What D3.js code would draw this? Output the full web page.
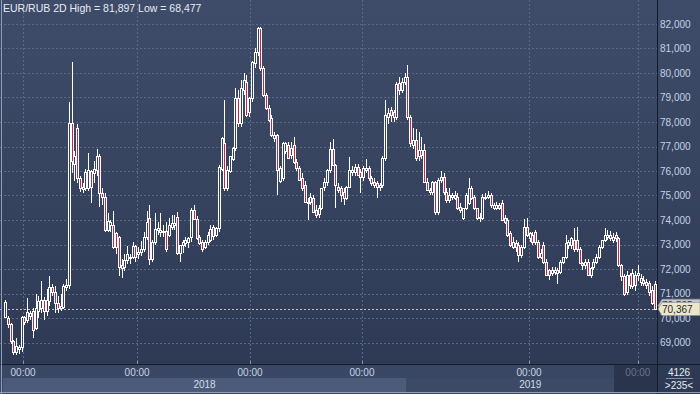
<!DOCTYPE html>
<html>
<head>
<meta charset="utf-8">
<script src="https://cdn.jsdelivr.net/npm/d3@7"></script>
<style>
  body { margin: 0; background: #2e3a54; }
  svg { display: block; font-family: "Liberation Sans", Arial, sans-serif; }
</style>
</head>
<body>
<div id="chart"></div>
<script>

var title = 'EUR/RUB 2D High = 81,897 Low = 68,477';

// open, high, low, close per 2D bar
var ohlc = [
  [70.05, 70.75, 70.0, 70.65], [70.0, 70.1, 69.6, 69.75], [69.75, 69.8, 68.95, 69.05], [69.05, 69.1, 68.5, 68.6],
  [68.6, 69.2, 68.477, 68.85], [68.75, 68.9, 68.55, 68.8], [68.8, 70.1, 68.6, 70.05], [70.05, 70.1, 69.7, 69.85],
  [69.9, 70.8, 69.8, 70.25], [70.1, 70.3, 69.9, 70.2], [70.3, 70.4, 69.2, 69.5], [69.6, 71.0, 69.5, 70.4],
  [70.3, 70.9, 70.0, 70.7], [70.4, 71.5, 70.2, 70.75], [70.75, 70.85, 69.9, 70.3], [70.3, 71.2, 70.1, 70.75],
  [70.7, 71.7, 70.5, 71.25], [71.25, 71.4, 70.9, 71.05], [71.05, 71.3, 70.2, 70.6], [70.6, 70.9, 70.2, 70.4],
  [70.4, 71.0, 70.3, 70.5], [70.45, 71.4, 70.35, 71.3], [71.25, 71.6, 71.1, 71.35], [71.35, 78.8, 71.2, 77.95],
  [77.95, 80.45, 75.9, 76.4], [76.3, 76.8, 75.6, 76.6], [77.75, 77.9, 75.5, 75.7], [75.7, 75.8, 75.15, 75.3],
  [75.35, 75.5, 75.1, 75.25], [75.3, 76.1, 75.2, 75.95], [75.3, 76.75, 75.2, 76.05], [76.0, 76.05, 74.7, 75.35],
  [75.9, 76.4, 75.5, 76.1], [76.05, 76.9, 75.8, 76.6], [76.6, 76.7, 74.55, 75.1], [75.1, 75.3, 74.6, 74.95],
  [74.95, 75.1, 73.5, 73.6], [73.6, 74.3, 73.5, 73.95], [73.8, 74.0, 73.5, 73.9], [73.8, 74.35, 72.8, 72.9],
  [73.45, 73.5, 72.6, 72.9], [73.3, 73.35, 71.7, 72.1], [72.15, 72.4, 71.65, 72.05], [72.1, 72.6, 71.9, 72.35],
  [72.35, 72.95, 72.2, 72.6], [72.45, 72.6, 72.2, 72.5], [72.5, 73.1, 72.4, 72.95], [72.95, 73.0, 72.3, 72.5],
  [72.6, 72.9, 72.4, 72.7], [72.7, 73.15, 72.55, 72.8], [72.8, 73.5, 72.7, 73.3], [73.3, 74.35, 73.2, 73.9],
  [74.1, 74.6, 72.15, 72.4], [72.4, 73.2, 72.3, 73.1], [73.1, 74.3, 73.0, 73.65], [73.6, 73.9, 73.4, 73.66],
  [73.6, 74.3, 73.3, 73.5], [73.5, 73.8, 73.3, 73.55], [73.55, 73.9, 72.7, 72.8],
  [73.4, 74.1, 73.3, 73.8], [73.7, 74.2, 73.6, 73.87], [73.8, 74.2, 73.6, 73.87], [74.13, 74.34, 72.57, 72.64],
  [72.64, 73.0, 72.3, 72.98], [72.98, 73.2, 72.64, 73.12], [73.05, 73.3, 72.9, 73.2], [73.1, 73.3, 72.84, 73.25],
  [73.3, 74.5, 73.1, 74.4], [74.4, 74.6, 74.0, 74.06], [74.06, 74.15, 73.2, 73.25], [73.3, 73.4, 73.0, 73.05],
  [73.1, 73.2, 72.7, 72.8], [72.9, 73.2, 72.8, 73.1], [73.1, 73.5, 73.0, 73.4], [73.2, 73.8, 73.1, 73.65],
  [73.7, 73.8, 73.2, 73.35], [73.4, 73.7, 73.3, 73.66], [73.66, 76.24, 73.5, 76.18], [76.1, 77.4, 76.0, 77.33],
  [77.13, 78.9, 75.2, 75.3], [75.3, 76.2, 75.2, 76.05], [76.0, 76.6, 75.9, 76.6], [76.5, 77.0, 76.4, 76.92],
  [76.92, 79.4, 76.8, 78.97], [78.97, 79.3, 77.8, 77.95], [77.95, 79.7, 77.8, 79.37], [79.3, 80.0, 79.1, 79.7],
  [79.65, 79.9, 78.2, 78.29], [78.4, 79.0, 78.2, 78.97], [78.97, 80.5, 78.8, 80.46], [80.4, 81.0, 80.2, 80.87],
  [80.87, 81.897, 80.7, 81.82],
  [81.82, 81.89, 80.1, 80.19], [80.19, 80.3, 79.0, 79.1], [79.1, 79.2, 78.5, 78.56], [78.56, 78.7, 78.0, 78.1],
  [78.15, 78.3, 77.4, 77.47], [77.33, 77.6, 77.2, 77.47], [77.45, 77.5, 75.0, 76.04], [75.6, 76.2, 75.5, 76.11],
  [75.7, 77.2, 75.6, 77.13], [76.8, 77.2, 76.7, 77.13], [77.06, 77.2, 76.5, 76.52], [76.65, 77.2, 76.5, 76.92],
  [77.06, 77.4, 76.3, 76.38], [76.38, 76.5, 76.0, 76.11], [76.11, 76.2, 75.6, 75.63], [75.7, 75.9, 75.2, 75.29],
  [75.43, 75.6, 74.7, 74.75], [74.75, 74.9, 74.0, 74.68], [74.75, 75.1, 74.6, 74.95], [74.9, 75.0, 74.3, 74.34],
  [74.4, 74.6, 74.1, 74.2], [74.25, 74.6, 74.1, 74.48], [74.5, 75.3, 74.4, 75.29], [75.35, 75.7, 75.2, 75.56],
  [75.56, 76.1, 75.4, 76.04], [76.04, 77.2, 75.9, 76.9], [76.9, 77.3, 76.2, 76.24],
  [76.24, 76.3, 74.48, 75.43], [75.36, 75.5, 75.1, 75.22], [75.29, 75.4, 74.75, 75.02], [75.16, 75.3, 74.6, 74.88],
  [74.88, 75.4, 74.8, 75.36], [75.36, 76.59, 75.3, 76.04], [75.97, 76.2, 75.8, 76.04], [75.97, 76.3, 75.8, 76.18],
  [76.18, 76.3, 75.8, 75.84], [75.97, 76.1, 75.1, 75.77], [75.77, 76.2, 75.6, 76.11], [76.05, 76.5, 75.9, 76.11],
  [76.11, 76.2, 75.6, 75.7], [75.7, 75.8, 75.4, 75.5], [75.56, 75.7, 75.3, 75.43], [75.5, 75.6, 74.9, 75.36],
  [75.36, 75.5, 75.2, 75.43], [75.43, 76.6, 75.3, 76.52], [76.52, 78.9, 76.4, 78.29], [78.2, 78.56, 77.9, 78.35],
  [78.49, 78.6, 78.0, 78.29], [78.4, 78.5, 78.0, 78.22], [78.22, 79.65, 78.1, 79.55], [79.58, 79.85, 79.1, 79.31],
  [79.31, 79.8, 79.2, 79.65], [79.65, 80.0, 79.5, 79.85], [79.85, 80.33, 78.1, 78.22], [78.22, 78.3, 77.0, 77.13],
  [77.06, 77.74, 76.9, 77.27], [77.27, 77.7, 76.4, 76.52], [76.6, 77.6, 76.4, 76.86], [76.86, 77.4, 76.5, 76.65],
  [76.86, 77.1, 75.5, 75.56], [75.56, 75.7, 75.2, 75.22], [75.22, 75.3, 75.0, 75.16], [75.16, 75.6, 75.0, 75.56],
  [75.56, 75.6, 74.2, 74.34], [74.34, 75.7, 74.2, 75.63], [75.63, 76.0, 75.5, 75.77], [75.77, 75.9, 75.0, 75.16],
  [75.16, 75.3, 74.7, 74.82], [74.82, 75.29, 74.7, 75.02], [74.95, 75.1, 74.8, 75.02], [75.02, 75.2, 74.8, 74.88],
  [74.95, 75.1, 74.4, 74.48], [74.55, 74.7, 74.3, 74.41], [74.07, 74.5, 74.0, 74.48], [74.48, 75.1, 74.4, 75.02],
  [74.68, 75.7, 74.6, 75.29], [75.29, 75.4, 74.8, 74.88], [74.95, 75.0, 74.4, 74.48], [74.48, 74.5, 74.0, 74.07],
  [74.07, 74.3, 73.9, 74.14], [74.1, 75.05, 74.0, 74.95], [74.88, 75.1, 74.8, 74.95], [74.95, 75.2, 74.85, 75.02],
  [75.02, 75.1, 74.5, 74.61],
  [74.48, 74.7, 74.4, 74.61], [74.5, 74.75, 74.4, 74.61], [74.61, 74.7, 74.4, 74.48], [74.68, 74.8, 73.95, 74.0],
  [74.07, 74.2, 73.85, 73.93], [74.0, 74.1, 73.3, 73.39], [73.45, 73.55, 72.9, 72.98], [72.91, 73.3, 72.8, 73.12],
  [73.05, 73.2, 72.7, 72.91], [72.98, 73.1, 72.3, 72.57], [72.57, 73.0, 72.45, 72.91], [72.91, 74.05, 72.8, 73.73],
  [73.73, 74.07, 73.3, 73.39], [73.25, 73.5, 73.1, 73.45], [73.39, 73.5, 73.0, 73.12], [73.52, 73.6, 73.0, 73.12],
  [73.12, 73.2, 72.4, 72.5], [72.5, 72.8, 72.4, 72.64], [72.98, 73.1, 72.2, 72.3], [72.3, 72.4, 71.7, 71.76],
  [71.95, 72.0, 71.55, 71.76], [71.83, 72.1, 71.7, 71.95], [71.89, 72.1, 71.75, 71.95], [71.95, 72.05, 71.4, 71.83],
  [71.89, 72.35, 71.8, 72.3], [72.3, 72.5, 72.2, 72.5], [72.5, 73.4, 72.4, 73.05], [72.98, 73.2, 72.8, 73.12],
  [72.98, 73.3, 72.8, 73.25], [73.2, 73.66, 72.7, 72.8], [73.2, 73.73, 72.7, 72.8], [72.8, 72.9, 72.2, 72.23],
  [72.23, 72.3, 71.95, 72.16], [72.16, 72.4, 72.0, 72.3], [72.3, 72.4, 71.7, 71.76], [71.76, 72.1, 71.65, 72.03],
  [72.1, 72.4, 71.95, 72.3], [72.3, 72.6, 72.2, 72.5], [72.5, 73.0, 72.4, 72.91], [72.91, 73.2, 72.8, 73.18],
  [73.18, 73.66, 73.1, 73.39], [73.3, 73.6, 73.2, 73.39], [73.39, 73.55, 73.15, 73.25], [73.18, 73.45, 73.05, 73.32],
  [73.39, 73.5, 73.1, 73.25], [73.25, 73.3, 72.1, 72.16], [72.16, 72.2, 71.5, 71.7], [71.7, 71.8, 70.9, 71.0],
  [71.07, 71.9, 70.95, 71.76], [71.76, 71.85, 71.2, 71.35], [71.3, 72.0, 71.2, 71.83], [71.76, 71.9, 71.1, 71.35],
  [71.76, 72.16, 71.5, 71.83], [71.45, 71.8, 71.3, 71.62], [71.55, 71.7, 71.3, 71.41], [71.48, 71.6, 71.2, 71.35],
  [71.41, 71.5, 70.9, 71.07], [71.14, 71.3, 70.55, 70.6], [71.4, 71.5, 70.35, 70.37]
];

var yTicks = [69, 70, 71, 72, 73, 74, 75, 76, 77, 78, 79, 80, 81, 82];
var timeTicks = [6.5, 47.6, 88.3, 128.6, 188.8, 228];
var timeLabels = ['00:00', '00:00', '00:00', '00:00', '00:00', '00:00'];
var years = ['2018', '2019'];
var yearStart = [-0.7, 144.5];
var yearEnd = [144.5, 234];
var lastPrice = 70.367;
var otherPrice = 70.505;
var cornerTop = '4126';
var cornerBottom = '>235<';

var W = 700, H = 394;
var plotRight = 657, plotBottom = 364;

var svg = d3.select('#chart').append('svg')
    .attr('width', W)
    .attr('height', H);

var defs = svg.append('defs');
var grad = defs.append('linearGradient')
    .attr('id', 'bg')
    .attr('x1', 0).attr('y1', 0).attr('x2', 0).attr('y2', 1);
grad.append('stop').attr('offset', '0%').attr('stop-color', '#3f4c69');
grad.append('stop').attr('offset', '100%').attr('stop-color', '#2d3953');

svg.append('rect')
    .attr('width', W)
    .attr('height', H)
    .attr('fill', 'url(#bg)');

var x = d3.scaleLinear().domain([0, ohlc.length - 1]).range([5, 654.5]);
var y = d3.scaleLinear().domain([69, 82]).range([342.5, 24]);

// grid
var grid = svg.append('g')
    .attr('stroke', '#5a6986')
    .attr('stroke-dasharray', '2,2')
    .attr('shape-rendering', 'crispEdges');

grid.selectAll('.hg')
    .data(yTicks)
    .enter()
    .append('line')
    .attr('x1', 0)
    .attr('x2', plotRight)
    .attr('y1', function(d) { return Math.round(y(d)) + 0.5; })
    .attr('y2', function(d) { return Math.round(y(d)) + 0.5; });

grid.selectAll('.vg')
    .data(timeTicks)
    .enter()
    .append('line')
    .attr('y1', 0)
    .attr('y2', plotBottom)
    .attr('x1', function(d) { return Math.round(x(d)) + 0.5; })
    .attr('x2', function(d) { return Math.round(x(d)) + 0.5; });

// right axis labels
svg.append('g')
    .selectAll('text')
    .data(yTicks)
    .enter()
    .append('text')
    .attr('x', 660)
    .attr('y', function(d) { return y(d) + 3.5; })
    .attr('fill', '#c3d1e6')
    .style('font-size', '10px')
    .text(function(d) { return d3.format(',.3f')(d).replace('.', ','); });

svg.append('text')
    .attr('x', 3)
    .attr('y', 12)
    .attr('fill', '#e6ebf2')
    .style('font-size', '10.5px')
    .text(title);

// last price line
svg.append('line')
    .attr('x1', 0)
    .attr('x2', plotRight)
    .attr('y1', Math.round(y(lastPrice)) + 0.5)
    .attr('y2', Math.round(y(lastPrice)) + 0.5)
    .attr('stroke', '#d6d23c')
    .attr('stroke-dasharray', '2,2')
    .attr('shape-rendering', 'crispEdges');

// candles
var candles = svg.append('g');

ohlc.forEach(function(d, i) {
    var px = Math.round(x(i));
    var o = d[0], h = d[1], l = d[2], c = d[3];
    var top = Math.round(y(Math.max(o, c)));
    var bot = Math.round(y(Math.min(o, c)));

    candles.append('line')
        .attr('x1', px + 0.5).attr('x2', px + 0.5)
        .attr('y1', Math.round(y(h)))
        .attr('y2', Math.round(y(l)))
        .attr('stroke', '#ffffff')
        .attr('shape-rendering', 'crispEdges');

    candles.append('rect')
        .attr('x', px - 0.5)
        .attr('y', top + 0.5)
        .attr('width', 2)
        .attr('height', Math.max(bot - top, 1))
        .attr('fill', c < o ? '#b8294c' : '#34415d')
        .attr('stroke', '#ffffff')
        .attr('stroke-width', 1);
});

// axes frame
svg.append('line')
    .attr('x1', plotRight + 0.5).attr('x2', plotRight + 0.5)
    .attr('y1', 0).attr('y2', H)
    .attr('stroke', '#141c2b');

// bottom strip
var bottom = svg.append('g');

bottom.append('rect')
    .attr('x', 0).attr('y', plotBottom)
    .attr('width', plotRight).attr('height', H - plotBottom)
    .attr('fill', '#3a4764');

bottom.selectAll('.yr')
    .data(years)
    .enter()
    .append('rect')
    .attr('x', function(d, i) { return x(yearStart[i]); })
    .attr('y', 378)
    .attr('width', function(d, i) { return x(yearEnd[i]) - x(yearStart[i]) + 2; })
    .attr('height', 14)
    .attr('fill', function(d, i) { return i == 0 ? '#4c5b79' : '#3d4a66'; });

bottom.append('rect')
    .attr('x', Math.round(x(219.5)))
    .attr('y', plotBottom + 1)
    .attr('width', plotRight - Math.round(x(219.5)))
    .attr('height', H - plotBottom - 3)
    .attr('fill', '#2a344d');

bottom.selectAll('.yl')
    .data(years)
    .enter()
    .append('text')
    .attr('x', function(d, i) { return (x(yearStart[i]) + x(yearEnd[i])) / 2; })
    .attr('y', 388)
    .attr('text-anchor', 'middle')
    .attr('fill', '#d2dbea')
    .style('font-size', '10px')
    .text(function(d) { return d; });

bottom.selectAll('.tl')
    .data(timeTicks)
    .enter()
    .append('text')
    .attr('x', function(d) { return x(d); })
    .attr('y', 376)
    .attr('text-anchor', 'middle')
    .attr('fill', function(d, i) { return i == timeTicks.length - 1 ? '#66758f' : '#c8d4e6'; })
    .style('font-size', '10px')
    .text(function(d, i) { return timeLabels[i]; });

bottom.selectAll('.tk')
    .data(timeTicks)
    .enter()
    .append('line')
    .attr('x1', function(d) { return Math.round(x(d)) + 0.5; })
    .attr('x2', function(d) { return Math.round(x(d)) + 0.5; })
    .attr('y1', plotBottom - 3)
    .attr('y2', plotBottom)
    .attr('stroke', '#8796b0');

bottom.append('line')
    .attr('x1', 0).attr('x2', W)
    .attr('y1', plotBottom + 0.5).attr('y2', plotBottom + 0.5)
    .attr('stroke', '#141c2b');

// outer border
svg.append('line')
    .attr('x1', 1.5).attr('x2', 1.5)
    .attr('y1', 0).attr('y2', H)
    .attr('stroke', '#8e9db5');
svg.append('line')
    .attr('x1', 0).attr('x2', W)
    .attr('y1', H - 1.5).attr('y2', H - 1.5)
    .attr('stroke', '#8e9db5');

// price tags on the right
function priceTag(v, fill, textFill) {
    var cy = y(v);
    var g = svg.append('g');
    g.append('path')
        .attr('d', 'M' + (plotRight + 1) + ',' + cy + ' L' + (plotRight + 5) + ',' + (cy - 6.5) +
            ' L' + W + ',' + (cy - 6.5) + ' L' + W + ',' + (cy + 6.5) + ' L' + (plotRight + 5) + ',' + (cy + 6.5) + 'Z')
        .attr('fill', fill)
        .attr('stroke', '#8a8f96')
        .attr('stroke-width', 0.6);
    g.append('text')
        .attr('x', 662)
        .attr('y', cy + 3.5)
        .attr('fill', textFill)
        .style('font-size', '10px')
        .text(d3.format(',.3f')(v).replace('.', ','));
}
priceTag(otherPrice, '#c3c6cb', '#3a3f48');
priceTag(lastPrice, '#ebe7cb', '#2a2a2a');

// bar counter in the corner
svg.append('text')
    .attr('x', 679).attr('y', 376)
    .attr('text-anchor', 'middle')
    .attr('fill', '#e6ebf2')
    .style('font-size', '10px')
    .text(cornerTop);
svg.append('line')
    .attr('x1', 666).attr('x2', 693)
    .attr('y1', 378.5).attr('y2', 378.5)
    .attr('stroke', '#8090aa');
svg.append('text')
    .attr('x', 679).attr('y', 389)
    .attr('text-anchor', 'middle')
    .attr('fill', '#e6ebf2')
    .style('font-size', '10px')
    .text(cornerBottom);

</script>
</body>
</html>
